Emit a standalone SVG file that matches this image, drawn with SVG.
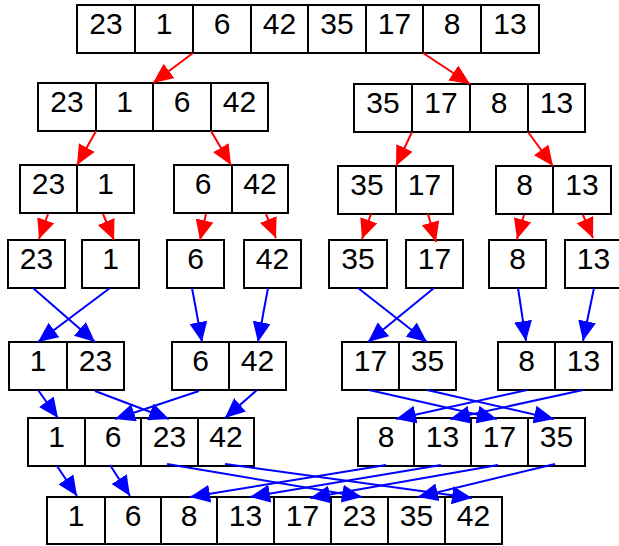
<svg xmlns="http://www.w3.org/2000/svg" width="619" height="546" viewBox="0 0 619 546">
<defs>
<style>
.cell{fill:#fff;stroke:#000;stroke-width:2}
.num{font-family:"Liberation Sans",Arial,sans-serif;font-size:30px;fill:#000;text-anchor:middle}
.red{stroke:#f00;stroke-width:2;fill:none;marker-end:url(#ah-red)}
.blue{stroke:#00f;stroke-width:2;fill:none;marker-end:url(#ah-blue)}
</style>
<marker id="ah-red" markerUnits="userSpaceOnUse" markerWidth="20" markerHeight="18" refX="20" refY="9" orient="auto" viewBox="0 0 20 18"><path d="M0,0 L20,9 L0,18 Z" fill="#f00"/></marker>
<marker id="ah-blue" markerUnits="userSpaceOnUse" markerWidth="20" markerHeight="18" refX="20" refY="9" orient="auto" viewBox="0 0 20 18"><path d="M0,0 L20,9 L0,18 Z" fill="#00f"/></marker>
</defs>
<rect width="619" height="546" fill="#fff"/>
<g id="nodes">
<g id="row0">
<rect class="cell" x="77" y="5" width="58" height="48"/><text class="num" x="106" y="34">23</text>
<rect class="cell" x="135" y="5" width="58" height="48"/><text class="num" x="164" y="34">1</text>
<rect class="cell" x="193" y="5" width="58" height="48"/><text class="num" x="222" y="34">6</text>
<rect class="cell" x="251" y="5" width="57" height="48"/><text class="num" x="279.5" y="34">42</text>
<rect class="cell" x="308" y="5" width="58" height="48"/><text class="num" x="337" y="34">35</text>
<rect class="cell" x="366" y="5" width="57" height="48"/><text class="num" x="394.5" y="34">17</text>
<rect class="cell" x="423" y="5" width="58" height="48"/><text class="num" x="452" y="34">8</text>
<rect class="cell" x="481" y="5" width="58" height="48"/><text class="num" x="510" y="34">13</text>
</g>
<g id="row1-left">
<rect class="cell" x="38" y="83" width="58" height="48"/><text class="num" x="67" y="112">23</text>
<rect class="cell" x="96" y="83" width="57" height="48"/><text class="num" x="124.5" y="112">1</text>
<rect class="cell" x="153" y="83" width="58" height="48"/><text class="num" x="182" y="112">6</text>
<rect class="cell" x="211" y="83" width="57" height="48"/><text class="num" x="239.5" y="112">42</text>
</g>
<g id="row1-right">
<rect class="cell" x="354" y="84" width="58" height="48"/><text class="num" x="383" y="113">35</text>
<rect class="cell" x="412" y="84" width="58" height="48"/><text class="num" x="441" y="113">17</text>
<rect class="cell" x="470" y="84" width="58" height="48"/><text class="num" x="499" y="113">8</text>
<rect class="cell" x="528" y="84" width="57" height="48"/><text class="num" x="556.5" y="113">13</text>
</g>
<g id="row2-a">
<rect class="cell" x="20" y="165" width="57" height="48"/><text class="num" x="48.5" y="194">23</text>
<rect class="cell" x="77" y="165" width="57" height="48"/><text class="num" x="105.5" y="194">1</text>
</g>
<g id="row2-b">
<rect class="cell" x="174" y="165" width="58" height="48"/><text class="num" x="203" y="194">6</text>
<rect class="cell" x="232" y="165" width="56" height="48"/><text class="num" x="260" y="194">42</text>
</g>
<g id="row2-c">
<rect class="cell" x="338" y="166" width="58" height="48"/><text class="num" x="367" y="195">35</text>
<rect class="cell" x="396" y="166" width="57" height="48"/><text class="num" x="424.5" y="195">17</text>
</g>
<g id="row2-d">
<rect class="cell" x="496" y="166" width="57" height="48"/><text class="num" x="524.5" y="195">8</text>
<rect class="cell" x="553" y="166" width="58" height="48"/><text class="num" x="582" y="195">13</text>
</g>
<g id="row3-23"><rect class="cell" x="8" y="240" width="57" height="48"/><text class="num" x="36.5" y="269">23</text></g>
<g id="row3-1"><rect class="cell" x="82" y="240" width="57" height="48"/><text class="num" x="110.5" y="269">1</text></g>
<g id="row3-6"><rect class="cell" x="167" y="240" width="57" height="48"/><text class="num" x="195.5" y="269">6</text></g>
<g id="row3-42"><rect class="cell" x="244" y="240" width="57" height="48"/><text class="num" x="272.5" y="269">42</text></g>
<g id="row3-35"><rect class="cell" x="329" y="240" width="58" height="48"/><text class="num" x="358" y="269">35</text></g>
<g id="row3-17"><rect class="cell" x="406" y="240" width="57" height="48"/><text class="num" x="434.5" y="269">17</text></g>
<g id="row3-8"><rect class="cell" x="489" y="240" width="57" height="48"/><text class="num" x="517.5" y="269">8</text></g>
<g id="row3-13"><rect class="cell" x="565" y="240" width="57" height="48"/><text class="num" x="593.5" y="269">13</text></g>
<g id="row4-a">
<rect class="cell" x="9" y="342" width="58" height="48"/><text class="num" x="38" y="371">1</text>
<rect class="cell" x="67" y="342" width="57" height="48"/><text class="num" x="95.5" y="371">23</text>
</g>
<g id="row4-b">
<rect class="cell" x="172" y="342" width="57" height="48"/><text class="num" x="200.5" y="371">6</text>
<rect class="cell" x="229" y="342" width="57" height="48"/><text class="num" x="257.5" y="371">42</text>
</g>
<g id="row4-c">
<rect class="cell" x="342" y="342" width="57" height="48"/><text class="num" x="370.5" y="371">17</text>
<rect class="cell" x="399" y="342" width="57" height="48"/><text class="num" x="427.5" y="371">35</text>
</g>
<g id="row4-d">
<rect class="cell" x="498" y="342" width="57" height="48"/><text class="num" x="526.5" y="371">8</text>
<rect class="cell" x="555" y="342" width="57" height="48"/><text class="num" x="583.5" y="371">13</text>
</g>
<g id="row5-left">
<rect class="cell" x="28" y="418" width="57" height="48"/><text class="num" x="56.5" y="447">1</text>
<rect class="cell" x="85" y="418" width="56" height="48"/><text class="num" x="113" y="447">6</text>
<rect class="cell" x="141" y="418" width="57" height="48"/><text class="num" x="169.5" y="447">23</text>
<rect class="cell" x="198" y="418" width="56" height="48"/><text class="num" x="226" y="447">42</text>
</g>
<g id="row5-right">
<rect class="cell" x="358" y="418" width="56" height="48"/><text class="num" x="386" y="447">8</text>
<rect class="cell" x="414" y="418" width="57" height="48"/><text class="num" x="442.5" y="447">13</text>
<rect class="cell" x="471" y="418" width="57" height="48"/><text class="num" x="499.5" y="447">17</text>
<rect class="cell" x="528" y="418" width="57" height="48"/><text class="num" x="556.5" y="447">35</text>
</g>
<g id="row6">
<rect class="cell" x="47" y="497" width="58" height="47"/><text class="num" x="76" y="526">1</text>
<rect class="cell" x="105" y="497" width="56" height="47"/><text class="num" x="133" y="526">6</text>
<rect class="cell" x="161" y="497" width="56" height="47"/><text class="num" x="189" y="526">8</text>
<rect class="cell" x="217" y="497" width="57" height="47"/><text class="num" x="245.5" y="526">13</text>
<rect class="cell" x="274" y="497" width="57" height="47"/><text class="num" x="302.5" y="526">17</text>
<rect class="cell" x="331" y="497" width="57" height="47"/><text class="num" x="359.5" y="526">23</text>
<rect class="cell" x="388" y="497" width="57" height="47"/><text class="num" x="416.5" y="526">35</text>
<rect class="cell" x="445" y="497" width="57" height="47"/><text class="num" x="473.5" y="526">42</text>
</g>
</g>
<g id="connectors">
<line class="red" x1="193" y1="53" x2="153" y2="83"/>
<line class="red" x1="423" y1="53" x2="470" y2="84"/>
<line class="red" x1="96" y1="131" x2="77" y2="165"/>
<line class="red" x1="211" y1="131" x2="231" y2="165"/>
<line class="red" x1="412" y1="132" x2="396" y2="166"/>
<line class="red" x1="528" y1="132" x2="553" y2="166"/>
<line class="red" x1="48" y1="214" x2="39" y2="239"/>
<line class="red" x1="103" y1="214" x2="114" y2="240"/>
<line class="red" x1="206" y1="214" x2="200" y2="240"/>
<line class="red" x1="266" y1="214" x2="276" y2="238"/>
<line class="red" x1="371" y1="214" x2="362" y2="239"/>
<line class="red" x1="428" y1="214" x2="436" y2="242"/>
<line class="red" x1="524" y1="215" x2="517" y2="239"/>
<line class="red" x1="583" y1="215" x2="593" y2="238"/>
<line class="blue" x1="33" y1="288" x2="95" y2="342"/>
<line class="blue" x1="110" y1="288" x2="38" y2="342"/>
<line class="blue" x1="192" y1="288" x2="202" y2="342"/>
<line class="blue" x1="268" y1="288" x2="258" y2="342"/>
<line class="blue" x1="358" y1="288" x2="427" y2="342"/>
<line class="blue" x1="434" y1="288" x2="368" y2="342"/>
<line class="blue" x1="518" y1="288" x2="526" y2="341"/>
<line class="blue" x1="594" y1="288" x2="583" y2="341"/>
<line class="blue" x1="38" y1="390" x2="58" y2="418"/>
<line class="blue" x1="95" y1="391" x2="169" y2="419"/>
<line class="blue" x1="199" y1="391" x2="115" y2="419"/>
<line class="blue" x1="257" y1="390" x2="225" y2="418"/>
<line class="blue" x1="369" y1="390" x2="497" y2="419"/>
<line class="blue" x1="427" y1="390" x2="554" y2="419"/>
<line class="blue" x1="527" y1="390" x2="396" y2="419"/>
<line class="blue" x1="583" y1="390" x2="450" y2="419"/>
<line class="blue" x1="57" y1="466" x2="77" y2="496"/>
<line class="blue" x1="110" y1="465" x2="130" y2="496"/>
<line class="blue" x1="167" y1="464" x2="362" y2="497"/>
<line class="blue" x1="225" y1="464" x2="472" y2="498"/>
<line class="blue" x1="386" y1="465" x2="190" y2="497"/>
<line class="blue" x1="441" y1="465" x2="250" y2="497"/>
<line class="blue" x1="498" y1="465" x2="310" y2="498"/>
<line class="blue" x1="555" y1="464" x2="418" y2="497"/>
</g>
</svg>
